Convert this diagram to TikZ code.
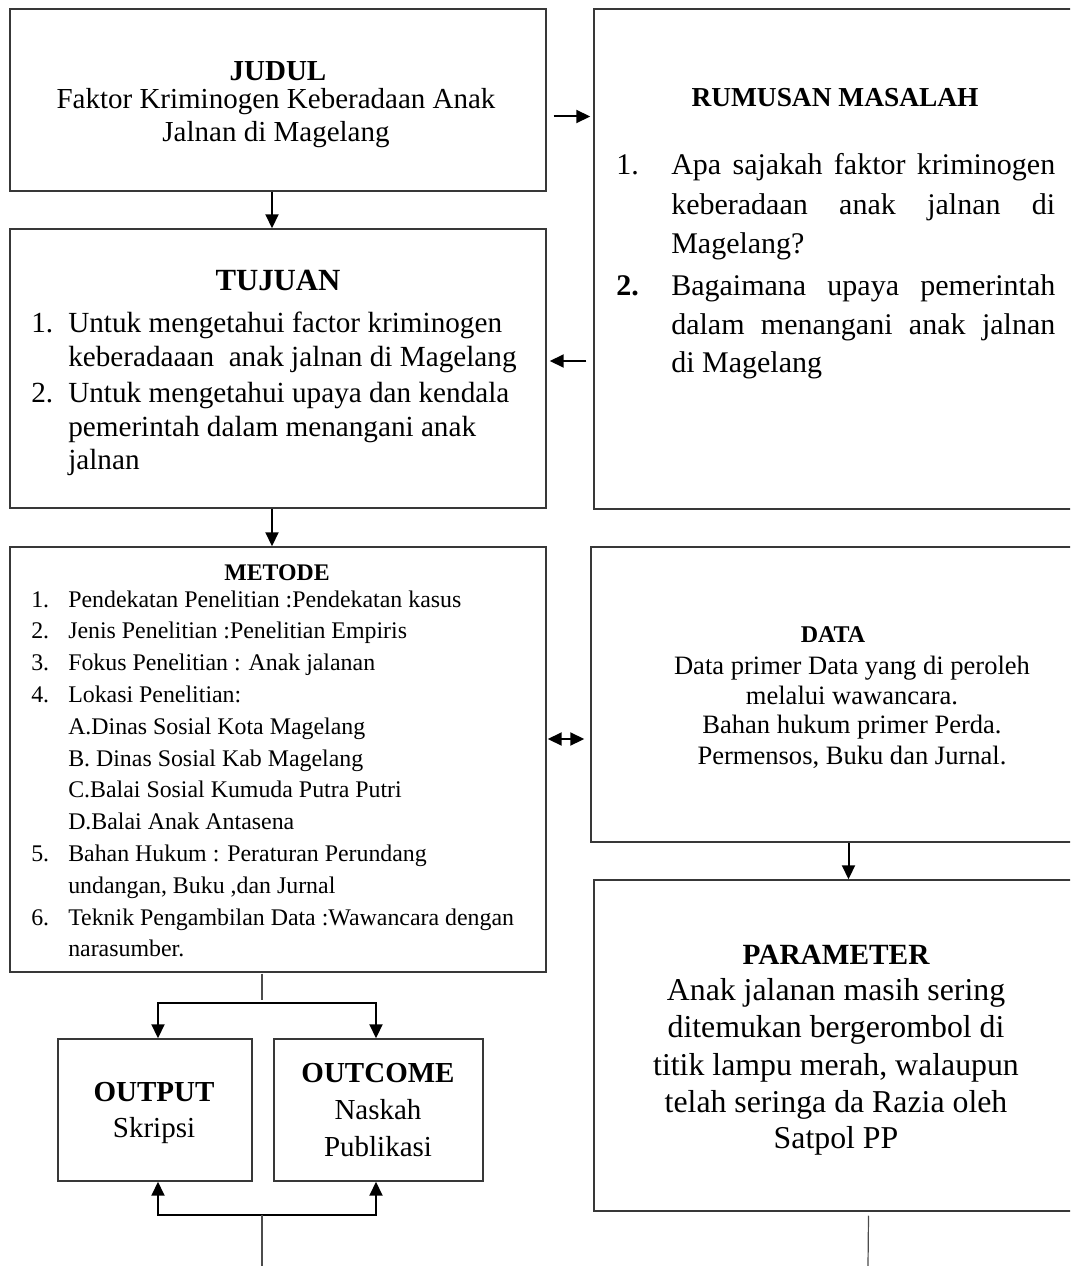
\documentclass[tikz,border=0pt]{standalone}
\usepackage{fontspec}
\setmainfont{Liberation Serif}
\usetikzlibrary{arrows.meta,fit,calc}
\newcommand\fsz[1]{\fontsize{#1}{#1}\selectfont}
\begin{document}
\begin{tikzpicture}[x=0.75pt,y=-0.75pt,
  box/.style={draw=black!78,line width=1.1pt,inner sep=0pt,fit={#1}},
  tx/.style={inner sep=0pt,anchor=base},
  tl/.style={inner sep=0pt,anchor=base west},
  arr/.style={line width=1.5pt,-{Triangle[length=10.5pt,width=9.75pt]}},
  darr/.style={line width=1.5pt,{Triangle[length=10.5pt,width=9.75pt]}-{Triangle[length=10.5pt,width=9.75pt]}},
  stem/.style={line width=0.9pt,draw=black!70},
  fJ/.style={font={\fsz{21.75pt}}},
  fJb/.style={font={\bfseries\fsz{21.75pt}}},
  fT/.style={font={\fsz{21.9pt}}},
  fR/.style={font={\fsz{22.5pt}}},
  fM/.style={font={\fsz{17.9pt}}},
  fD/.style={font={\fsz{19.9pt}}},
  fP/.style={font={\fsz{23.85pt}}}]
\useasboundingbox (0,0) rectangle (1070,1266);
\clip (0,0) rectangle (1070,1266);

% boxes
\node[box={(10,9) (546,191)}] (judul) {};
\node[box={(594,9) (1076,509)}] (rumusan) {};
\node[box={(10,229) (546,508)}] (tujuan) {};
\node[box={(10,547) (546,972)}] (metode) {};
\node[box={(591,547) (1076,842)}] (data) {};
\node[box={(594,880) (1076,1211)}] (parameter) {};
\node[box={(58,1039) (252,1181)}] (output) {};
\node[box={(274,1039) (483,1181)}] (outcome) {};

% JUDUL
\node[tx,fJb] (jt) at (278,81) {JUDUL};
\node[tx,fJ] (j1) at (276,109) {Faktor Kriminogen Keberadaan Anak};
\node[tx,fJ] (j2) at (276,142) {Jalnan di Magelang};

% RUMUSAN MASALAH
\node[tx,font={\bfseries\fsz{20.55pt}}] (rt) at (835,107) {RUMUSAN MASALAH};
\node[tl,fR] (rn1) at (616,175) {1.};
\node[tl,fR] (r1) at (671,175) {\makebox[288pt][s]{Apa sajakah faktor kriminogen}};
\node[tl,fR] (r2) at (671,215) {\makebox[288pt][s]{keberadaan anak jalnan di}};
\node[tl,fR] (r3) at (671,253) {Magelang?};
\node[tl,fR] (rn2) at (616,295) {\bfseries 2.};
\node[tl,fR] (r4) at (671,295) {\makebox[288pt][s]{Bagaimana upaya pemerintah}};
\node[tl,fR] (r5) at (671,334) {\makebox[288pt][s]{dalam menangani anak jalnan}};
\node[tl,fR] (r6) at (671,372) {di Magelang};

% TUJUAN
\node[tx,font={\bfseries\fsz{23.1pt}}] (tt) at (278,291) {TUJUAN};
\node[tl,fT] (tn1) at (31,332) {1.};
\node[tl,fT] (t1) at (68,332) {Untuk mengetahui factor kriminogen};
\node[tl,fT] (t2) at (68,366) {keberadaaan\ \ anak jalnan di Magelang};
\node[tl,fT] (tn2) at (31,402) {2.};
\node[tl,fT] (t3) at (68,402) {Untuk mengetahui upaya dan kendala};
\node[tl,fT] (t4) at (68,436) {pemerintah dalam menangani anak};
\node[tl,fT] (t5) at (68,469) {jalnan};

% METODE
\node[tx,font={\bfseries\fsz{17.85pt}}] (mt) at (277,580) {METODE};
\node[tl,fM] (mn1) at (31,607) {1.};
\node[tl,fM] (m1) at (68,607) {Pendekatan Penelitian :Pendekatan kasus};
\node[tl,fM] (mn2) at (31,638.8) {2.};
\node[tl,fM] (m2) at (68,638.8) {Jenis Penelitian :Penelitian Empiris};
\node[tl,fM] (mn3) at (31,670.6) {3.};
\node[tl,fM] (m3) at (68,670.6) {Fokus Penelitian : Anak jalanan};
\node[tl,fM] (mn4) at (31,702.4) {4.};
\node[tl,fM] (m4) at (68,702.4) {Lokasi Penelitian:};
\node[tl,fM] (m5) at (68,734.2) {A.Dinas Sosial Kota Magelang};
\node[tl,fM] (m6) at (68,766) {B. Dinas Sosial Kab Magelang};
\node[tl,fM] (m7) at (68,797.8) {C.Balai Sosial Kumuda Putra Putri};
\node[tl,fM] (m8) at (68,829.6) {D.Balai Anak Antasena};
\node[tl,fM] (mn5) at (31,861.4) {5.};
\node[tl,fM] (m9) at (68,861.4) {Bahan Hukum : Peraturan Perundang};
\node[tl,fM] (m10) at (68,893.2) {undangan, Buku ,dan Jurnal};
\node[tl,fM] (mn6) at (31,925) {6.};
\node[tl,fM] (m11) at (68,925) {Teknik Pengambilan Data :Wawancara dengan};
\node[tl,fM] (m12) at (68,956.8) {narasumber.};

% DATA
\node[tx,font={\bfseries\fsz{18pt}}] (dt) at (833,642) {DATA};
\node[tx,fD] (d1) at (852,674) {Data primer Data yang di peroleh};
\node[tx,fD] (d2) at (852,704) {melalui wawancara.};
\node[tx,fD] (d3) at (852,733) {Bahan hukum primer Perda.};
\node[tx,fD] (d4) at (852,764) {Permensos, Buku dan Jurnal.};

% PARAMETER
\node[tx,font={\bfseries\fsz{22pt}}] (pt) at (836,964) {PARAMETER};
\node[tx,fP] (p1) at (836,1000) {Anak jalanan masih sering};
\node[tx,fP] (p2) at (836,1037) {ditemukan bergerombol di};
\node[tx,fP] (p3) at (836,1075) {titik lampu merah, walaupun};
\node[tx,fP] (p4) at (836,1112) {telah seringa da Razia oleh};
\node[tx,fP] (p5) at (836,1148) {Satpol PP};

% OUTPUT / OUTCOME
\node[tx,fJb] (ot) at (154,1101) {OUTPUT};
\node[tx,fJ] (o1) at (154,1137) {Skripsi};
\node[tx,fJb] (ct) at (378,1082) {OUTCOME};
\node[tx,fJ] (c1) at (378,1119) {Naskah};
\node[tx,fJ] (c2) at (378,1156) {Publikasi};

% connectors
\draw[arr] ($(judul.east)+(7,16.5)$) -- ($(rumusan.west)+(-3,-142.5)$);
\draw[arr] ($(judul.south)+(-6,0)$) -- ($(tujuan.north)+(-6,0)$);
\draw[arr] ($(rumusan.west)+(-7,102)$) -- ($(tujuan.east)+(3,-7.5)$);
\draw[arr] ($(tujuan.south)+(-6,0)$) -- ($(metode.north)+(-6,0)$);
\draw[darr] ($(metode.east)+(1,-20.5)$) -- ($(data.west)+(-6,44.5)$);
\draw[arr] ($(data.south)+(15,0)$) -- ($(parameter.north)+(13.5,0)$);

\coordinate (stemTop) at (262,1000);
\coordinate (splitL) at (158,1003);
\coordinate (splitR) at (376,1003);
\coordinate (joinL) at (158,1215);
\coordinate (joinR) at (376,1215);
\coordinate (joinM) at (262,1215);
\coordinate (bottomL) at (262,1266);
\coordinate (bottomR) at (868,1266);

\draw[stem] ($(metode.south)+(-16,1)$) -- (stemTop);
\draw[darr,line join=miter] (splitL |- output.north) -- (splitL) -- (splitR) -- (splitR |- outcome.north);
\draw[darr,line join=miter] (joinL |- output.south) -- (joinL) -- (joinR) -- (joinR |- outcome.south);
\draw[stem] (joinM) -- (bottomL);
\draw[stem] ($(parameter.south)+(33.5,4)$) -- (bottomR);
\end{tikzpicture}
\end{document}
